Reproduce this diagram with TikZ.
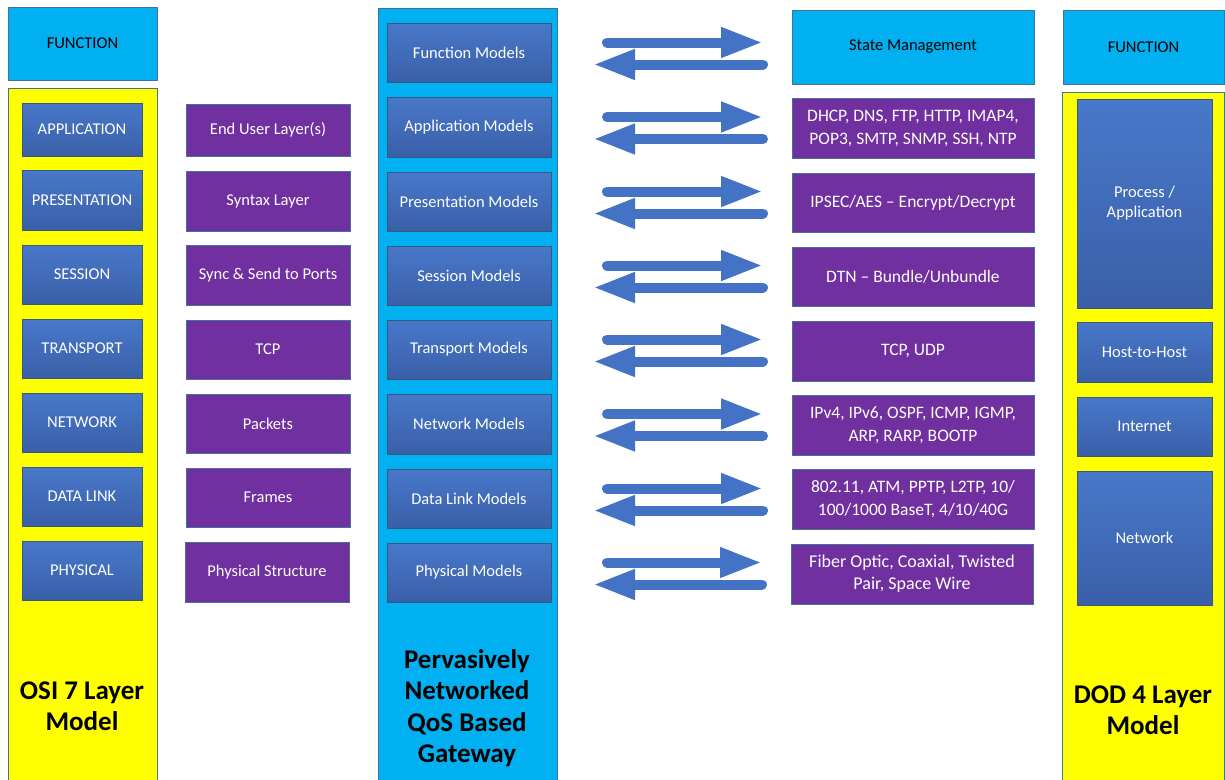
\documentclass[tikz,border=0pt]{standalone}
\usepackage{fontspec}
\setmainfont{Carlito}
\usetikzlibrary{arrows.meta,calc}
\definecolor{cyanf}{HTML}{00B0F0}
\definecolor{yellowf}{HTML}{FFFF00}
\definecolor{purplef}{HTML}{7030A0}
\definecolor{bluetop}{HTML}{4878CA}
\definecolor{bluebot}{HTML}{3A5FA8}
\definecolor{edgeb}{HTML}{41719C}
\definecolor{arrowb}{HTML}{4472C4}
\newcommand\mybox[7]{\node[#2, minimum width={(#5)-(#3)}, minimum height={(#6)-(#4)}] (#1) at ({((#3)+(#5))/2},{((#4)+(#6))/2}) {#7};}
\begin{document}
\begin{tikzpicture}[x=1pt,y=-1pt,
  base/.style={rectangle, draw=edgeb, line width=0.8pt, inner sep=0pt, outer sep=0pt, align=center, font=\fontsize{16.5}{20}\selectfont},
  cyanbox/.style={base, fill=cyanf, text=black},
  colyellow/.style={base, fill=yellowf},
  colcyan/.style={base, fill=cyanf},
  bluebox/.style={base, draw=edgeb!80!black, top color=bluetop, bottom color=bluebot, text=white},
  purplebox/.style={base, fill=purplef, text=white},
  rtext/.style={font=\fontsize{17.5}{23}\selectfont},
  title/.style={align=center, font=\fontsize{27}{31.3}\selectfont\bfseries, text=black},
  dbl/.style={line width=10pt, draw=arrowb, line cap=round, -{Triangle[length=42pt,width=28pt]}}
]
\useasboundingbox (0,0) rectangle (1225,779);
% columns
\mybox{osif}{cyanbox}{8}{7}{157}{80}{FUNCTION}
\mybox{osicol}{colyellow}{8}{88}{157}{784}{}
\mybox{gwcol}{colcyan}{378}{8}{557}{784}{}
\mybox{dodf}{cyanbox}{1063}{10}{1224}{84}{FUNCTION}
\mybox{dodcol}{colyellow}{1062}{92}{1224}{784}{}
% titles
\node[title] (osit) at (82,706) {OSI 7 Layer\\Model};
\node[title] (gwt) at (467,708) {Pervasively\\Networked\\QoS Based\\Gateway};
\node[title] (dodt) at (1143,710) {DOD 4 Layer\\Model};
% OSI layers
\mybox{o1}{bluebox}{22}{103}{142}{156}{APPLICATION}
\mybox{o2}{bluebox}{22}{170}{142}{230}{PRESENTATION}
\mybox{o3}{bluebox}{22}{245}{142}{304}{SESSION}
\mybox{o4}{bluebox}{22}{319}{142}{378}{TRANSPORT}
\mybox{o5}{bluebox}{22}{393}{142}{452}{NETWORK}
\mybox{o6}{bluebox}{22}{467}{142}{526}{DATA LINK}
\mybox{o7}{bluebox}{22}{541}{142}{600}{PHYSICAL}
% purple middle
\mybox{p1}{purplebox}{186}{104}{350}{156}{End User Layer(s)}
\mybox{p2}{purplebox}{186}{171}{350}{231}{Syntax Layer}
\mybox{p3}{purplebox}{186}{245}{350}{305}{Sync \& Send to Ports}
\mybox{p4}{purplebox}{186}{320}{350}{379}{TCP}
\mybox{p5}{purplebox}{186}{394}{350}{453}{Packets}
\mybox{p6}{purplebox}{186}{468}{350}{527}{Frames}
\mybox{p7}{purplebox}{185}{542}{349}{602}{Physical Structure}
% gateway models
\mybox{g1}{bluebox}{387}{23}{551}{82}{Function Models}
\mybox{g2}{bluebox}{387}{97}{551}{157}{Application Models}
\mybox{g3}{bluebox}{387}{172}{551}{231}{Presentation Models}
\mybox{g4}{bluebox}{387}{246}{551}{305}{Session Models}
\mybox{g5}{bluebox}{387}{320}{551}{379}{Transport Models}
\mybox{g6}{bluebox}{387}{394}{551}{454}{Network Models}
\mybox{g7}{bluebox}{387}{469}{551}{528}{Data Link Models}
\mybox{g8}{bluebox}{387}{543}{551}{602}{Physical Models}
% right boxes
\mybox{r1}{cyanbox}{792}{10}{1034}{84}{State Management}
\mybox{r2}{purplebox,rtext}{792}{98}{1034}{158}{DHCP, DNS, FTP, HTTP, IMAP4,\\POP3, SMTP, SNMP, SSH, NTP}
\mybox{r3}{purplebox,rtext}{792}{173}{1034}{232}{IPSEC/AES -- Encrypt/Decrypt}
\mybox{r4}{purplebox,rtext}{792}{247}{1034}{306}{DTN -- Bundle/Unbundle}
\mybox{r5}{purplebox,rtext}{792}{321}{1034}{381}{TCP, UDP}
\mybox{r6}{purplebox,rtext}{792}{395}{1034}{455}{IPv4, IPv6, OSPF, ICMP, IGMP,\\ARP, RARP, BOOTP}
\mybox{r7}{purplebox,rtext}{792}{469}{1034}{529}{802.11, ATM, PPTP, L2TP, 10/\\100/1000 BaseT, 4/10/40G}
\mybox{r8}{purplebox,font=\fontsize{18}{22}\selectfont}{791}{544}{1033}{604}{Fiber Optic, Coaxial, Twisted\\Pair, Space Wire}
% DOD layers
\mybox{d1}{bluebox}{1077}{99}{1212}{308}{Process /\\Application}
\mybox{d2}{bluebox}{1077}{322}{1212}{382}{Host-to-Host}
\mybox{d3}{bluebox}{1077}{397}{1212}{456}{Internet}
\mybox{d4}{bluebox}{1077}{471}{1212}{605}{Network}
% arrows
\foreach \i in {1,...,8}{
  \coordinate (rs\i) at ([xshift=56pt,yshift=10pt]g\i.east);
  \coordinate (le\i) at ([xshift=42pt,yshift=-12pt]g\i.east);
  \draw[dbl] (rs\i) -- ([xshift=-29pt]r\i.west |- rs\i);
  \draw[dbl] ([xshift=-29pt]r\i.west |- le\i) -- (le\i);
}
\end{tikzpicture}
\end{document}
